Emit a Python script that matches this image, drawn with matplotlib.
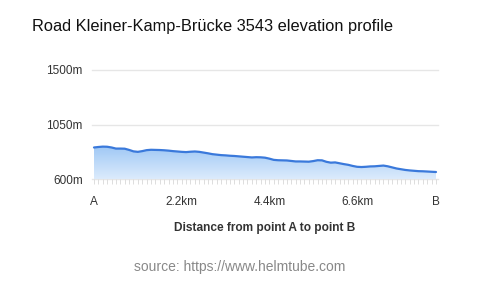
import numpy as np
import matplotlib
matplotlib.use('Agg')
import matplotlib.pyplot as plt
from matplotlib.ticker import FixedLocator, NullFormatter

plt.rcParams['font.family'] = ['Liberation Sans', 'DejaVu Sans']

# ─────────────────────────────────────────────
# data (elevation in m, one point every 0.11 km)
# ─────────────────────────────────────────────
title = 'Road Kleiner-Kamp-Brücke 3543 elevation profile'
step_km = 0.11
elevation = [
    862, 866, 869, 868, 862, 853, 853, 852, 842, 830,
    826, 832, 840, 843, 842, 841, 839, 836, 832, 829,
    826, 824, 827, 829, 826, 820, 814, 807, 803, 799,
    797, 794, 792, 789, 786, 783, 780, 782, 781, 778,
    770, 760, 757, 756, 755, 751, 747, 747, 746, 745,
    750, 757, 756, 744, 737, 739, 732, 725, 719, 710,
    703, 701, 703, 706, 707, 710, 713, 707, 698, 689,
    683, 677, 673, 670, 667, 666, 664, 662, 660,
]
x_ticks_km = [0, 2.2, 4.4, 6.6]
x_tick_labels = ['A', '2.2km', '4.4km', '6.6km', 'B']
y_ticks = [600, 1050, 1500]
y_tick_labels = ['600m', '1050m', '1500m']

dist = np.arange(len(elevation)) * step_km
elev = np.array(elevation)

# ─────────────────────────────────────────────
# figure
# ─────────────────────────────────────────────
W, H = 480, 287
fig = plt.figure(figsize=(W / 100, H / 100), dpi=100)
ax_l, ax_r = 92, 438
ax_t, ax_b = 70, 179.3
ax = fig.add_axes([ax_l / W, 1 - ax_b / H, (ax_r - ax_l) / W, (ax_b - ax_t) / H])

pad = (dist[-1] - dist[0]) * 2 / (436 - 94)
ax.set_xlim(dist[0] - pad, dist[-1] + pad)
ax.set_ylim(600, 1500)

# grid lines
for yv in y_ticks:
    ax.axhline(yv, color='#e6e6e6', linewidth=1.0, zorder=1, clip_on=False)

# gradient fill under the line
poly = ax.fill_between(dist, elev, 600, color='none', zorder=2)
grad = np.linspace(0, 1, 256).reshape(-1, 1)
cmap = matplotlib.colors.LinearSegmentedColormap.from_list(
    'g', ['#dcebfc', '#9fc8f5'])
img = ax.imshow(grad, aspect='auto', cmap=cmap, origin='lower',
                extent=[dist[0], dist[-1], 600, elev.max()], zorder=2)
img.set_clip_path(poly.get_paths()[0], transform=ax.transData)

ax.plot(dist, elev, color='#3a79db', linewidth=1.6, zorder=3,
        solid_capstyle='round', solid_joinstyle='round')

# ticks
ax.xaxis.set_major_locator(FixedLocator(x_ticks_km + [dist[-1]]))
ax.set_xticklabels(x_tick_labels)
ax.xaxis.set_minor_locator(FixedLocator(dist))
ax.xaxis.set_minor_formatter(NullFormatter())
ax.tick_params(axis='x', which='both', length=3.6, width=0.6,
               color='#d8d8d8', direction='out', pad=8.6,
               labelsize=8.5, labelcolor='#333333')
ax.set_yticks(y_ticks)
ax.set_yticklabels(y_tick_labels)
ax.tick_params(axis='y', length=0, pad=6.7, labelsize=8.5, labelcolor='#333333')

for s in ax.spines.values():
    s.set_visible(False)

# texts
fig.text(32 / W, 1 - 27 / H, title, ha='left', va='center',
         fontsize=11.8, color='#111111')
fig.text((ax_l + ax_r) / 2 / W, 1 - 228 / H, 'Distance from point A to point B',
         ha='center', va='center', fontsize=8.6, fontweight='bold', color='#333333')
fig.text(240 / W, 1 - 267 / H, 'source: https://www.helmtube.com',
         ha='center', va='center', fontsize=10, color='#888888')

fig.savefig('out.png', dpi=100, facecolor='white')
